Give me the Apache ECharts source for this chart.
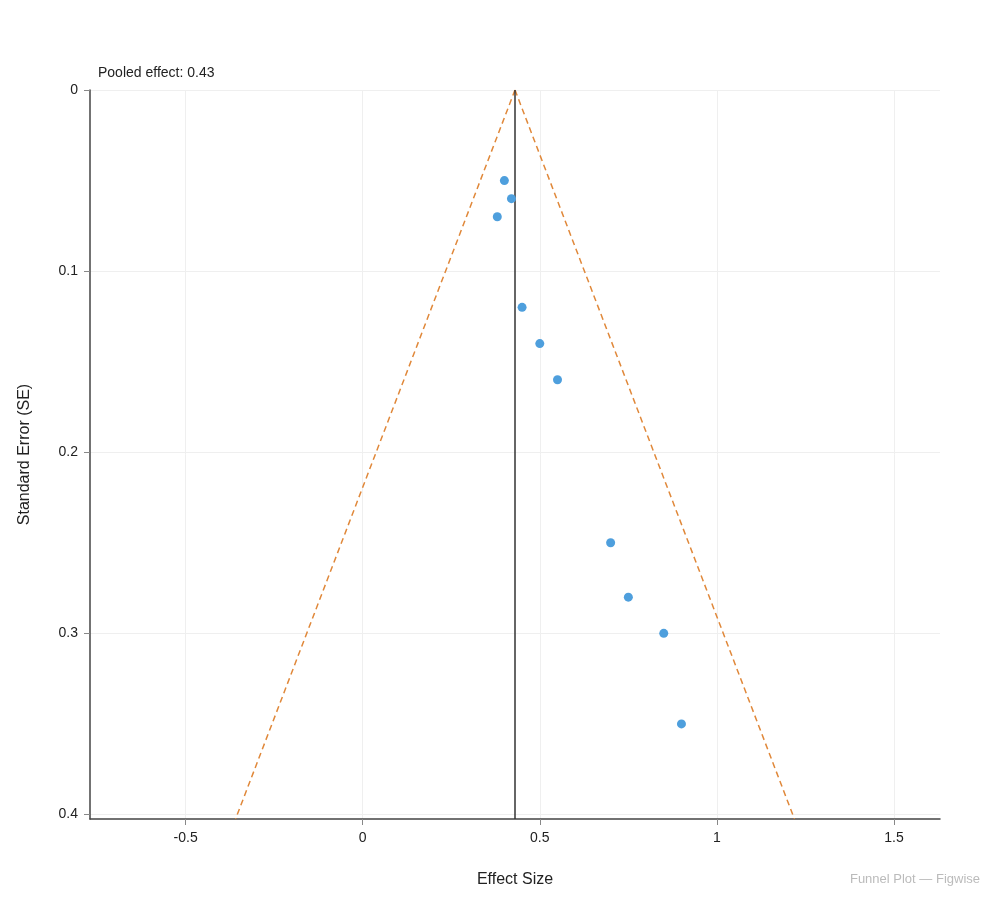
<!DOCTYPE html>
<html><head><meta charset="utf-8">
<script src="https://cdn.jsdelivr.net/npm/echarts@6/dist/echarts.min.js"></script>
<style>html,body{margin:0;padding:0;background:#fff}#c{width:1000px;height:900px}</style>
</head><body><div id="c"></div>
<script>
var effectSizes = [0.40, 0.42, 0.38, 0.45, 0.50, 0.55, 0.70, 0.75, 0.85, 0.90];
var standardErrors = [0.05, 0.06, 0.07, 0.12, 0.14, 0.16, 0.25, 0.28, 0.30, 0.35];
var pooledEffect = 0.43;
var seMax = 0.4025;
var funnelLeft = [[0.43, 0], [-0.359, 0.4025]];
var funnelRight = [[0.43, 0], [1.219, 0.4025]];
var pooledLine = [[0.43, 0], [0.43, 0.4025]];
var xTicks = [-0.5, 0, 0.5, 1, 1.5];
var yTicks = [0, 0.1, 0.2, 0.3, 0.4];
var xRange = [-0.77, 1.63];

var points = effectSizes.map(function (x, i) { return [x, standardErrors[i]]; });
var font = 'Liberation Sans, Arial, Helvetica, sans-serif';
var chart = echarts.init(document.getElementById('c'));
chart.setOption({
  animation: false,
  textStyle: { fontFamily: font },
  grid: { left: 90, right: 60, top: 90, bottom: 81, containLabel: false },
  graphic: [
    { type: 'text', left: 98, top: 66, style: { text: 'Pooled effect: ' + pooledEffect, fontSize: 14, fill: '#222', fontFamily: font } },
    { type: 'text', right: 20, top: 873, style: { text: 'Funnel Plot — Figwise', fontSize: 13, fill: '#bbbbbb', fontFamily: font } }
  ],
  xAxis: {
    type: 'value', min: xRange[0], max: xRange[1],
    name: 'Effect Size', nameLocation: 'middle', nameGap: 53,
    nameTextStyle: { fontSize: 16, color: '#222', fontFamily: font },
    axisLine: { show: true, onZero: false, lineStyle: { color: '#444', width: 1.5 } },
    axisTick: { show: true, length: 6, lineStyle: { color: '#888' }, customValues: xTicks },
    axisLabel: { color: '#222', fontSize: 14, margin: 12, customValues: xTicks, formatter: function (v) { return String(v); } },
    splitLine: { show: true, lineStyle: { color: '#efefef', width: 1 } }
  },
  yAxis: {
    type: 'value', min: 0, max: seMax, inverse: true,
    name: 'Standard Error (SE)', nameLocation: 'middle', nameGap: 57, nameRotate: 90,
    nameTextStyle: { fontSize: 16, color: '#222', fontFamily: font },
    axisLine: { show: true, onZero: false, lineStyle: { color: '#444', width: 1.5 } },
    axisTick: { show: true, length: 6, lineStyle: { color: '#888' }, customValues: yTicks },
    axisLabel: { color: '#222', fontSize: 14, margin: 12, customValues: yTicks, formatter: function (v) { return String(v); } },
    splitLine: { show: true, lineStyle: { color: '#efefef', width: 1 } }
  },
  series: [
    { type: 'line', data: funnelLeft, symbol: 'none', silent: true,
      lineStyle: { color: '#e0883a', width: 1.5, type: [6, 4] }, z: 2 },
    { type: 'line', data: funnelRight, symbol: 'none', silent: true,
      lineStyle: { color: '#e0883a', width: 1.5, type: [6, 4] }, z: 2 },
    { type: 'line', data: pooledLine, symbol: 'none', silent: true,
      lineStyle: { color: '#333', width: 1.5 }, z: 3 },
    { type: 'scatter', data: points, symbolSize: 9,
      itemStyle: { color: '#4e9fdd', opacity: 1 }, z: 4 }
  ]
});
</script></body></html>
